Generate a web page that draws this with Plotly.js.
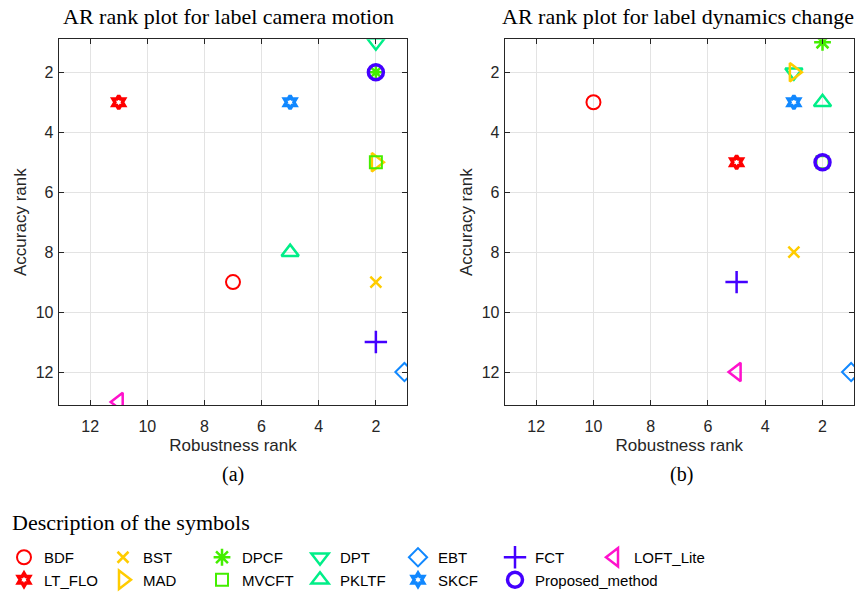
<!DOCTYPE html>
<html><head><meta charset="utf-8">
<script src="https://cdn.plot.ly/plotly-3.0.1.min.js"></script>
<style>html,body{margin:0;padding:0;background:#fff}</style>
</head><body><div id="chart" style="width:859px;height:596px"></div>
<script>
// ---- data ----
const methods = ['BDF','BST','DPCF','DPT','EBT','FCT','LOFT_Lite','LT_FLO','MAD','MVCFT','PKLTF','SKCF','Proposed_method'];
const camRobust   = [7, 2, 2, 2, 1, 2, 11, 11, 2, 2, 5, 5, 2];
const camAccuracy = [9, 9, 2, 1, 12, 11, 13, 3, 5, 5, 8, 3, 2];
const dynRobust   = [10, 3, 2, 3, 1, 5, 5, 5, 3, 2, 2, 3, 2];
const dynAccuracy = [3, 8, 1, 2, 12, 9, 12, 5, 2, 5, 3, 3, 5];
const tickValues = [2, 4, 6, 8, 10, 12];
const panelTitles = ['AR rank plot for label camera motion', 'AR rank plot for label dynamics change'];
const panelLabels = ['(a)', '(b)'];
const legendHeading = 'Description of the symbols';
const legendColumnOf = {BDF:0, LT_FLO:0, BST:1, MAD:1, DPCF:2, MVCFT:2, DPT:3, PKLTF:3, EBT:4, SKCF:4, FCT:5, Proposed_method:5, LOFT_Lite:6};

// ---- styles ----
const colors = {BDF:'#ff0000', BST:'#ffcc00', DPCF:'#44ee00', DPT:'#00ee88', EBT:'#1188ff', FCT:'#4400ff',
  LOFT_Lite:'#ff11cc', LT_FLO:'#ff0000', MAD:'#ffcc00', MVCFT:'#44ee00', PKLTF:'#00ee88', SKCF:'#1188ff', Proposed_method:'#4400ff'};
const symbols = {BDF:'circle-open', BST:'x-thin-open', DPCF:'asterisk-open', DPT:'triangle-down-open', EBT:'diamond-open',
  FCT:'cross-thin-open', LOFT_Lite:'triangle-left-open', LT_FLO:'hexagram-open', MAD:'triangle-right-open', MVCFT:'square-open',
  PKLTF:'triangle-up-open', SKCF:'hexagram-open', Proposed_method:'circle-open'};
const sizes = {BDF:14, BST:11, DPCF:14, DPT:15, EBT:14, FCT:16, LOFT_Lite:16, LT_FLO:10, MAD:16, MVCFT:12, PKLTF:15, SKCF:10, Proposed_method:15};
const widths = {BDF:2, BST:2.5, DPCF:2.5, DPT:2.5, EBT:2, FCT:2.5, LOFT_Lite:2.5, LT_FLO:3.5, MAD:2.5, MVCFT:2, PKLTF:2.5, SKCF:3.5, Proposed_method:3.5};

const W = 859, H = 596;
const sans = 'Liberation Sans, Arial, sans-serif';
const serif = 'Liberation Serif, Times New Roman, serif';
const ink = '#262626';

const traces = [];
const panels = [[camRobust, camAccuracy, 'x', 'y'], [dynRobust, dynAccuracy, 'x2', 'y2']];
panels.forEach(([rx, ay, xa, ya], p) => {
  methods.forEach((m, i) => {
    const col = legendColumnOf[m];
    traces.push({
      type: 'scatter', mode: 'markers', name: m,
      x: [rx[i]], y: [ay[i]], xaxis: xa, yaxis: ya,
      legend: col === 0 ? 'legend' : 'legend' + (col + 1),
      showlegend: p === 0,
      marker: {symbol: symbols[m], size: sizes[m], color: colors[m], line: {color: colors[m], width: widths[m]}},
      hoverinfo: 'name+x+y'
    });
  });
});

const axisCommon = {
  range: [13.1, 0.9], tickvals: tickValues, ticks: 'inside', ticklen: 5, tickcolor: ink,
  showline: true, linecolor: ink, linewidth: 1, mirror: 'ticks',
  showgrid: true, gridcolor: '#e3e3e3', gridwidth: 1, zeroline: false,
  tickfont: {family: sans, size: 16, color: ink}
};
const yTop = 1 - 39.3 / H, yBot = 1 - 405 / H;
const xDom1 = [58.7 / W, 407.3 / W], xDom2 = [504.7 / W, 854 / W];
const titleFont = {family: sans, size: 17, color: ink};
const xAxisExtra = {ticklabelstandoff: 7, title: {text: 'Robustness rank', font: titleFont, standoff: 4}};
const yAxisExtra = {ticklabelstandoff: 1, title: {text: 'Accuracy rank', font: titleFont, standoff: 4}};

const layout = {
  width: W, height: H, margin: {l: 0, r: 0, t: 0, b: 0},
  paper_bgcolor: '#fff', plot_bgcolor: '#fff',
  font: {family: sans, color: ink},
  xaxis: Object.assign({}, axisCommon, xAxisExtra, {domain: xDom1, anchor: 'y'}),
  yaxis: Object.assign({}, axisCommon, yAxisExtra, {domain: [yBot, yTop], anchor: 'x'}),
  xaxis2: Object.assign({}, axisCommon, xAxisExtra, {domain: xDom2, anchor: 'y2'}),
  yaxis2: Object.assign({}, axisCommon, yAxisExtra, {domain: [yBot, yTop], anchor: 'x2'}),
  annotations: [],
  showlegend: true
};

const titleCenters = [228, 678];
const labelCenters = [233, 681];
[0, 1].forEach(p => {
  layout.annotations.push({text: panelTitles[p], xref: 'paper', yref: 'paper', x: titleCenters[p] / W, y: 1 - 17 / H,
    xanchor: 'center', yanchor: 'middle', showarrow: false, font: {family: serif, size: 22, color: '#000'}});
  layout.annotations.push({text: panelLabels[p], xref: 'paper', yref: 'paper', x: labelCenters[p] / W, y: 1 - 474 / H,
    xanchor: 'center', yanchor: 'middle', showarrow: false, font: {family: serif, size: 20, color: '#000'}});
});
layout.annotations.push({text: legendHeading, xref: 'paper', yref: 'paper', x: 10 / W, y: 1 - 522 / H,
  xanchor: 'left', yanchor: 'middle', showarrow: false, font: {family: serif, size: 22, color: '#000'}});

// legend columns: all share the same top edge (2-item columns end at the bottom of the page)
const legendLeft = [4, 103, 202, 300, 398, 495, 594];
const legendTopPx = 541;
legendLeft.forEach((lx, c) => {
  layout[c === 0 ? 'legend' : 'legend' + (c + 1)] = {
    x: lx / W, y: 1 - legendTopPx / H, xanchor: 'left', yanchor: 'top', orientation: 'v', tracegroupgap: 0,
    bgcolor: 'rgba(0,0,0,0)', borderwidth: 0, font: {family: sans, size: 15, color: '#000'},
    itemclick: false, itemdoubleclick: false
  };
});

Plotly.newPlot('chart', traces, layout, {displayModeBar: false});
</script></body></html>
